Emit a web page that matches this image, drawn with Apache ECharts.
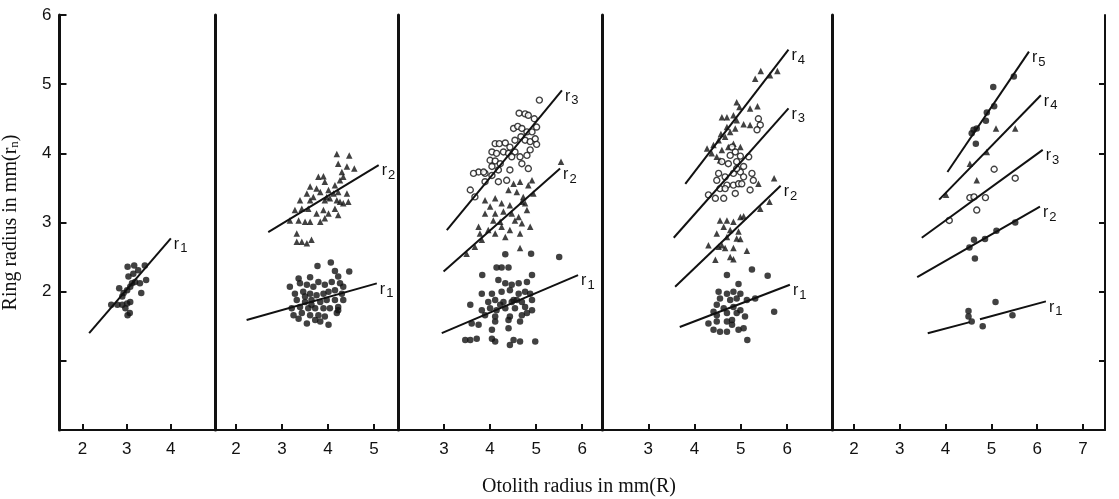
<!DOCTYPE html>
<html><head><meta charset="utf-8">
<script src="https://cdn.jsdelivr.net/npm/echarts@6/dist/echarts.min.js"></script>
<style>html,body{margin:0;padding:0;background:#fff}#c{width:1119px;height:499px}</style>
</head><body><div id="c"></div>
<script>
// ---------- DATA ----------
const xTitle = 'Otolith radius in mm(R)';
const yTitle = 'Ring radius in mm(r{s|n})';
const yTickLabels = [2, 3, 4, 5, 6];
const yTicks = [1, 2, 3, 4, 5, 6];
const xTickLabels1 = [2, 3, 4];
const xTickLabels2 = [2, 3, 4, 5];
const xTickLabels3 = [3, 4, 5, 6];
const xTickLabels4 = [3, 4, 5, 6];
const xTickLabels5 = [2, 3, 4, 5, 6, 7];

// Panel 1 (one ring)
const p1_r1_pts = [[2.65,1.81],[2.79,1.81],[2.83,2.05],[2.90,1.93],[2.93,1.98],[3.01,2.02],[3.02,2.36],[3.04,2.22],[3.01,1.83],[3.02,1.66],[3.07,1.69],[3.08,1.85],[3.15,2.26],[3.17,2.38],[3.19,2.14],[3.26,2.31],[3.33,1.98],[3.41,2.38],[3.44,2.17],[3.12,2.12],[3.30,2.12],[2.97,1.76],[2.90,1.81],[3.08,2.07]];
const p1_r1_line = [[2.15,1.40],[4.0,2.77]];

// Panel 2 (two rings)
const p2_r2_pts = [[4.19,3.99],[4.46,3.97],[4.22,3.85],[4.41,3.81],[4.57,3.78],[3.79,3.66],[3.90,3.67],[3.93,3.59],[4.30,3.73],[4.33,3.66],[4.26,3.61],[4.15,3.54],[3.61,3.52],[3.75,3.49],[3.83,3.44],[4.01,3.47],[4.22,3.44],[4.41,3.42],[3.54,3.42],[3.39,3.32],[3.61,3.32],[3.93,3.32],[4.04,3.35],[4.26,3.30],[4.33,3.28],[4.44,3.30],[3.28,3.18],[3.43,3.20],[3.57,3.20],[3.75,3.13],[3.90,3.18],[4.01,3.13],[4.15,3.20],[4.22,3.11],[3.17,3.03],[3.36,3.03],[3.50,3.01],[3.61,3.01],[3.83,3.01],[3.93,3.06],[3.32,2.84],[3.32,2.72],[3.43,2.72],[3.64,2.75],[3.54,2.70],[3.97,3.37],[4.12,3.42],[4.19,3.32],[3.68,3.37]];
const p2_r1_pts = [[3.77,2.37],[4.06,2.42],[4.46,2.29],[3.36,2.19],[3.61,2.21],[4.15,2.30],[4.22,2.22],[3.17,2.07],[3.39,2.12],[3.54,2.10],[3.68,2.07],[3.79,2.14],[3.93,2.10],[4.08,2.14],[4.26,2.12],[4.33,2.07],[3.28,1.97],[3.46,2.00],[3.61,1.97],[3.75,1.95],[3.90,1.97],[4.01,2.00],[4.15,2.02],[4.30,1.97],[3.32,1.88],[3.50,1.85],[3.64,1.88],[3.83,1.85],[3.97,1.88],[4.15,1.88],[4.33,1.88],[3.21,1.76],[3.39,1.78],[3.57,1.76],[3.72,1.76],[3.90,1.76],[4.04,1.76],[4.22,1.78],[3.25,1.66],[3.43,1.69],[3.61,1.66],[3.79,1.66],[3.93,1.64],[4.19,1.69],[3.54,1.54],[3.72,1.59],[3.83,1.57],[4.01,1.52],[3.36,1.61],[4.22,1.73],[3.64,1.81],[3.50,1.93]];
const p2_r1_line = [[2.23,1.59],[5.06,2.12]];
const p2_r2_line = [[2.70,2.86],[5.10,3.83]];

// Panel 3 (three rings)
const p3_r3_pts = [[5.07,4.77],[4.63,4.58],[4.76,4.57],[4.83,4.55],[4.96,4.50],[4.51,4.36],[4.60,4.39],[4.69,4.36],[4.80,4.31],[4.91,4.31],[5.01,4.38],[4.11,4.14],[4.20,4.14],[4.33,4.15],[4.43,4.09],[4.54,4.19],[4.67,4.24],[4.76,4.19],[4.87,4.17],[4.98,4.21],[5.01,4.13],[4.04,4.02],[4.14,4.00],[4.29,4.02],[4.40,4.00],[4.54,4.02],[4.87,4.05],[4.00,3.90],[4.11,3.89],[4.22,3.85],[4.47,3.95],[4.65,3.95],[4.80,3.97],[3.75,3.73],[3.89,3.71],[4.04,3.81],[4.18,3.76],[4.43,3.76],[4.69,3.85],[3.57,3.47],[3.89,3.59],[4.04,3.68],[4.18,3.59],[3.86,3.73],[3.67,3.37],[4.36,3.61],[4.83,3.78],[3.64,3.71]];
const p3_r2_pts = [[5.54,3.88],[4.51,3.56],[4.65,3.59],[4.83,3.54],[4.91,3.61],[4.40,3.47],[4.58,3.44],[4.72,3.37],[4.94,3.42],[4.69,3.30],[4.11,3.35],[4.25,3.28],[4.43,3.25],[3.89,3.32],[4.00,3.23],[4.11,3.13],[4.29,3.16],[4.47,3.13],[4.80,3.18],[4.62,3.08],[4.69,2.99],[4.87,2.94],[4.07,3.03],[4.22,3.01],[4.43,2.89],[4.65,2.84],[4.11,2.84],[4.33,2.79],[3.89,3.13],[3.75,2.94],[3.82,2.75],[3.67,2.65],[4.65,2.63],[3.49,2.55],[3.96,2.89],[4.25,2.94],[4.54,3.03],[4.76,3.28],[3.78,2.84]];
const p3_r1_pts = [[5.50,2.50],[4.33,2.54],[4.89,2.55],[4.14,2.35],[4.25,2.35],[4.40,2.35],[3.83,2.24],[4.91,2.24],[4.18,2.17],[4.33,2.12],[4.47,2.10],[4.62,2.12],[4.80,2.14],[3.82,1.97],[4.04,1.97],[4.25,2.00],[4.43,2.02],[4.62,1.97],[4.76,2.00],[4.87,1.97],[3.96,1.85],[4.11,1.88],[4.29,1.85],[4.51,1.88],[4.69,1.85],[4.91,1.88],[3.57,1.81],[3.82,1.73],[4.00,1.76],[4.14,1.73],[4.33,1.76],[4.54,1.76],[4.76,1.78],[4.91,1.73],[3.89,1.66],[4.11,1.64],[4.43,1.64],[4.69,1.66],[3.60,1.54],[3.75,1.52],[4.11,1.57],[4.40,1.59],[4.65,1.57],[4.80,1.69],[4.04,1.45],[4.40,1.47],[3.46,1.30],[3.57,1.30],[3.71,1.32],[4.04,1.32],[4.11,1.28],[4.43,1.23],[4.51,1.30],[4.65,1.28],[4.98,1.28],[4.47,1.85],[4.22,1.81],[4.58,1.88]];
const p3_r1_line = [[2.95,1.40],[5.91,2.24]];
const p3_r2_line = [[2.99,2.29],[5.52,3.78]];
const p3_r3_line = [[3.06,2.89],[5.56,4.91]];

// Panel 4 (four rings)
const p4_r4_pts = [[5.43,5.19],[5.31,5.08],[5.63,5.13],[5.79,5.19],[4.91,4.74],[4.97,4.67],[5.20,4.65],[5.36,4.68],[4.84,4.55],[4.70,4.52],[4.59,4.52],[4.91,4.48],[5.06,4.42],[5.20,4.41],[4.70,4.38],[4.88,4.36],[4.57,4.28],[4.52,4.19],[4.66,4.24],[4.77,4.31],[4.41,4.12],[4.27,4.07],[4.37,4.00],[4.48,3.95],[4.59,4.05],[4.73,4.09],[4.84,4.14],[4.99,4.09],[4.55,3.90],[5.72,3.64],[5.38,3.56]];
const p4_r3_pts = [[5.38,4.50],[5.42,4.41],[5.35,4.34],[4.81,4.09],[4.88,4.02],[4.77,3.97],[4.99,3.96],[5.17,3.95],[4.59,3.88],[4.73,3.85],[4.91,3.88],[5.06,3.81],[4.52,3.71],[4.66,3.66],[4.84,3.71],[4.99,3.73],[5.24,3.71],[4.48,3.61],[4.70,3.54],[4.84,3.54],[4.95,3.56],[5.02,3.56],[5.27,3.61],[5.20,3.47],[4.55,3.49],[4.66,3.49],[4.88,3.42],[4.30,3.40],[4.45,3.35],[4.63,3.35],[4.91,3.78],[5.06,3.66]];
const p4_r2_pts = [[5.62,3.30],[5.42,3.20],[4.99,3.08],[5.06,3.09],[4.55,3.03],[4.70,3.03],[4.84,3.01],[4.63,2.94],[4.77,2.89],[4.95,2.87],[4.48,2.84],[4.70,2.79],[4.91,2.77],[4.99,2.76],[5.13,2.59],[4.30,2.67],[4.59,2.67],[4.45,2.46],[4.77,2.50],[4.84,2.47],[4.52,2.65],[4.66,2.63],[4.84,2.63]];
const p4_r1_pts = [[5.24,2.32],[4.70,2.24],[5.58,2.23],[4.95,2.11],[4.52,2.00],[4.70,1.97],[4.84,2.00],[4.99,1.97],[4.55,1.90],[4.77,1.88],[4.91,1.90],[5.13,1.88],[4.48,1.81],[4.63,1.76],[4.84,1.78],[4.99,1.73],[5.31,1.90],[5.72,1.71],[4.41,1.71],[4.70,1.69],[4.91,1.69],[5.09,1.64],[4.30,1.54],[4.48,1.57],[4.70,1.57],[4.81,1.59],[5.06,1.47],[4.41,1.45],[4.55,1.42],[4.70,1.42],[4.95,1.45],[5.14,1.30],[4.81,1.52],[4.48,1.66]];
const p4_r1_line = [[3.68,1.49],[6.06,2.10]];
const p4_r2_line = [[3.58,2.07],[5.86,3.53]];
const p4_r3_line = [[3.55,2.78],[6.03,4.65]];
const p4_r4_line = [[3.80,3.56],[6.03,5.50]];

// Panel 5 (five rings)
const p5_r5_pts = [[5.49,5.11],[5.04,4.96],[5.06,4.68],[4.90,4.59],[4.88,4.47],[4.68,4.36],[4.57,4.29],[4.66,4.14],[4.61,4.34]];
const p5_r4_pts = [[5.10,4.36],[5.52,4.36],[4.90,4.02],[4.53,3.85],[4.68,3.61],[4.01,3.40]];
const p5_r3_pts = [[5.06,3.77],[5.52,3.64],[4.53,3.36],[4.62,3.37],[4.87,3.36],[4.68,3.18],[4.08,3.03]];
const p5_r2_pts = [[5.52,3.00],[5.11,2.88],[4.86,2.76],[4.62,2.75],[4.52,2.64],[4.64,2.48]];
const p5_r1_pts = [[5.09,1.85],[4.50,1.72],[4.50,1.64],[4.57,1.57],[4.81,1.50],[5.46,1.66]];
const p5_r1_line = [[3.61,1.40],[4.53,1.56],[4.64,'-'],[4.75,1.60],[6.19,1.86]];
const p5_r2_line = [[3.38,2.21],[6.06,3.23]];
const p5_r3_line = [[3.48,2.78],[6.12,4.05]];
const p5_r4_line = [[3.86,3.33],[6.08,4.84]];
const p5_r5_line = [[4.04,3.73],[5.82,5.47]];

// ---------- LAYOUT ----------
const TOP = 15, BOTTOM_Y = 430, H = BOTTOM_Y - TOP;
const panels = [
  {left: 53,  right: 215,  min: 1.478, max: 5.0,  ticks: xTickLabels1},
  {left: 215, right: 398,  min: 1.543, max: 5.52, ticks: xTickLabels2},
  {left: 398, right: 602,  min: 2.0,   max: 6.43, ticks: xTickLabels3},
  {left: 602, right: 832,  min: 2.0,   max: 6.97, ticks: xTickLabels4},
  {left: 832, right: 1105, min: 1.52,  max: 7.48, ticks: xTickLabels5}
];
const SANS = 'Liberation Sans';
const SERIF = 'Liberation Serif';
const BLACK = '#111';

const grids = panels.map(p => ({left: p.left, top: TOP, width: p.right - p.left, height: H, containLabel: false}));
const xAxes = panels.map((p, i) => ({
  type: 'value', gridIndex: i, min: p.min, max: p.max,
  axisLine: {show: true, onZero: false, lineStyle: {color: BLACK, width: 2}},
  axisTick: {show: true, inside: true, length: 6, customValues: p.ticks, lineStyle: {color: BLACK, width: 2}},
  axisLabel: {show: true, customValues: p.ticks, color: BLACK, fontFamily: SANS, fontSize: 17, margin: 11},
  splitLine: {show: false}
}));
const yAxes = panels.map((p, i) => ({
  type: 'value', gridIndex: i, min: 0, max: 6, position: 'left',
  axisLine: {show: true, onZero: false, lineStyle: {color: BLACK, width: 3}},
  axisTick: {show: i === 0, inside: true, length: 7, customValues: yTicks, lineStyle: {color: BLACK, width: 2}},
  axisLabel: {show: i === 0, customValues: yTickLabels, color: BLACK, fontFamily: SANS, fontSize: 17, margin: 8},
  splitLine: {show: false},
  name: i === 0 ? yTitle : '',
  nameLocation: 'middle', nameGap: 38, nameRotate: 90,
  nameTextStyle: {color: BLACK, fontFamily: SERIF, fontSize: 20,
    rich: {s: {fontFamily: SERIF, fontSize: 13, color: BLACK, padding: [8, 0, 0, 0]}}}
}));
// right-hand frame of last panel
yAxes.push({
  type: 'value', gridIndex: 4, min: 0, max: 6, position: 'right',
  axisLine: {show: true, onZero: false, lineStyle: {color: BLACK, width: 2}},
  axisTick: {show: true, inside: true, length: 6, customValues: [1,2,3,4,5], lineStyle: {color: BLACK, width: 2}},
  axisLabel: {show: false}, splitLine: {show: false}
});

const series = [];
function pts(data, gi, kind) {
  const s = {type: 'scatter', xAxisIndex: gi, yAxisIndex: gi, data: data, silent: true, z: 3};
  if (kind === 'dot') { s.symbol = 'circle'; s.symbolSize = 6.5; s.itemStyle = {color: BLACK}; }
  else if (kind === 'tri') { s.symbol = 'triangle'; s.symbolSize = 6.5; s.itemStyle = {color: BLACK}; }
  else { s.symbol = 'circle'; s.symbolSize = 6; s.itemStyle = {color: '#fff', borderColor: BLACK, borderWidth: 1.4}; }
  series.push(s);
}
function line(data, gi, n) {
  series.push({
    type: 'line', xAxisIndex: gi, yAxisIndex: gi, data: data, showSymbol: false, symbol: 'none',
    connectNulls: false, silent: true, clip: false, z: 4,
    lineStyle: {color: BLACK, width: 2},
    endLabel: {show: true, distance: 3, offset: [0, 6], formatter: () => 'r{s|' + n + '}',
      color: BLACK, fontFamily: SANS, fontSize: 16,
      rich: {s: {fontFamily: SANS, fontSize: 13, color: BLACK, padding: [9, 0, 0, 1]}}}
  });
}
pts(p1_r1_pts, 0, 'dot'); line(p1_r1_line, 0, 1);
pts(p2_r2_pts, 1, 'tri'); pts(p2_r1_pts, 1, 'dot'); line(p2_r1_line, 1, 1); line(p2_r2_line, 1, 2);
pts(p3_r3_pts, 2, 'open'); pts(p3_r2_pts, 2, 'tri'); pts(p3_r1_pts, 2, 'dot');
line(p3_r1_line, 2, 1); line(p3_r2_line, 2, 2); line(p3_r3_line, 2, 3);
pts(p4_r4_pts, 3, 'tri'); pts(p4_r3_pts, 3, 'open'); pts(p4_r2_pts, 3, 'tri'); pts(p4_r1_pts, 3, 'dot');
line(p4_r1_line, 3, 1); line(p4_r2_line, 3, 2); line(p4_r3_line, 3, 3); line(p4_r4_line, 3, 4);
pts(p5_r5_pts, 4, 'dot'); pts(p5_r4_pts, 4, 'tri'); pts(p5_r3_pts, 4, 'open'); pts(p5_r2_pts, 4, 'dot'); pts(p5_r1_pts, 4, 'dot');
line(p5_r1_line, 4, 1); line(p5_r2_line, 4, 2); line(p5_r3_line, 4, 3); line(p5_r4_line, 4, 4); line(p5_r5_line, 4, 5);

const chart = echarts.init(document.getElementById('c'), null, {renderer: 'canvas'});
chart.setOption({
  backgroundColor: '#fff',
  animation: false,
  title: {text: xTitle, left: 574, top: 472, textAlign: 'center',
    textStyle: {color: BLACK, fontFamily: SERIF, fontSize: 20, fontWeight: 'normal'}},
  grid: grids, xAxis: xAxes, yAxis: yAxes, series: series
});
</script></body></html>
